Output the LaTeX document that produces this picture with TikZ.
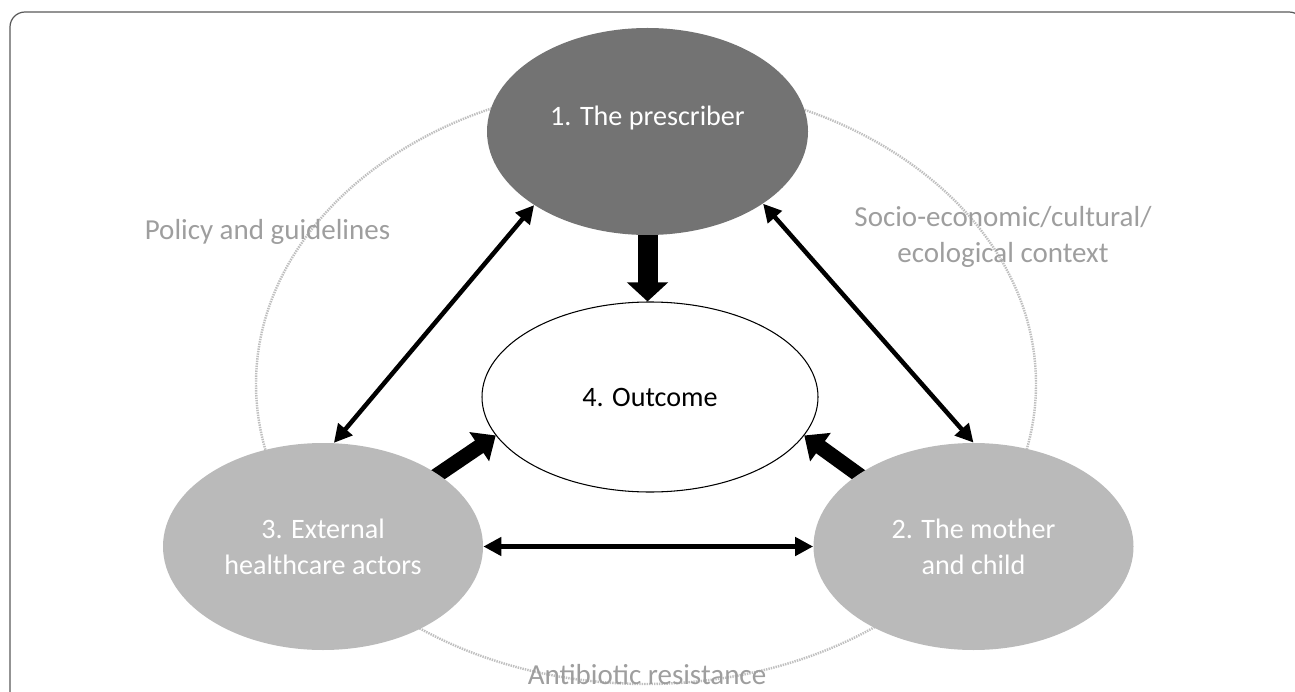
\documentclass[tikz,border=0pt]{standalone}
\usepackage{fontspec}
\setmainfont{Carlito}
\usetikzlibrary{positioning}
\usetikzlibrary{shapes.geometric}
\usetikzlibrary{arrows.meta}
\pgfdeclarelayer{back}
\pgfsetlayers{back,main}

\begin{document}
\begin{tikzpicture}[
  blob/.style={ellipse,minimum width=6.4cm,minimum height=4.14cm,inner sep=0pt,text=white,align=center,font=\fontsize{16}{20.5}\selectfont},
  ctx/.style={text=black!38,font=\fontsize{16.5}{20.5}\selectfont,align=center},
  fat/.style={line width=0.4cm,-{Triangle[length=0.38cm,width=0.8cm]}},
  slant/.style={line width=0.3cm,-{Triangle[length=0.4cm,width=0.68cm]},shorten <=-0.3cm},
  link/.style={line width=0.09cm,>={Triangle[length=0.36cm,width=0.36cm]},<->}
]
\useasboundingbox (0,0) rectangle (25.9,13.82);
\clip (0,0) rectangle (25.9,13.82);
\draw[black!65,line width=0.7pt,rounded corners=0.3cm] (0.2,-0.5) -- (0.2,13.58) -- (26.08,13.58) -- (26.08,-0.5);

% context ring
\draw[black!25,line width=1.4pt,dash pattern=on 0.8pt off 0.6pt] (12.92,6.14) ellipse (7.8 and 6.0);

\node[ctx,anchor=base] (pol) at (5.35,9.034) {Policy and guidelines};
\node[ctx] (soc) at (20.06,9.09) {Socio-economic/cultural/\\ecological context};
\node[ctx,anchor=base] (abr) at (12.94,0.14) {Antibiotic resistance};

\node[blob,fill=black!55,minimum width=6.42cm,text height=0.4cm,text depth=0.62cm] (P) at (12.95,11.19) {1. The prescriber};
\node[blob,fill=black!27] (E) at (6.46,2.89) {3. External\\healthcare actors};
\node[blob,fill=black!27] (M) at (19.47,2.89) {2. The mother\\and child};
\node[blob,fill=white,draw=black,line width=0.6pt,minimum width=6.72cm,minimum height=3.8cm,text=black] (O) at (13.0,5.88) {4. Outcome};

\begin{pgfonlayer}{back}
\draw[fat] (P.south) -- (P.south |- O.north);
\draw[slant] (E.32) -- (O.194);
\draw[slant] (M.148) -- (O.-14);
\end{pgfonlayer}

\draw[link] (P.213) -- (E.84.5);
\draw[link] (P.-32.7) -- (M.north);
\draw[link] (E.east) -- (M.west);

\end{tikzpicture}
\end{document}
